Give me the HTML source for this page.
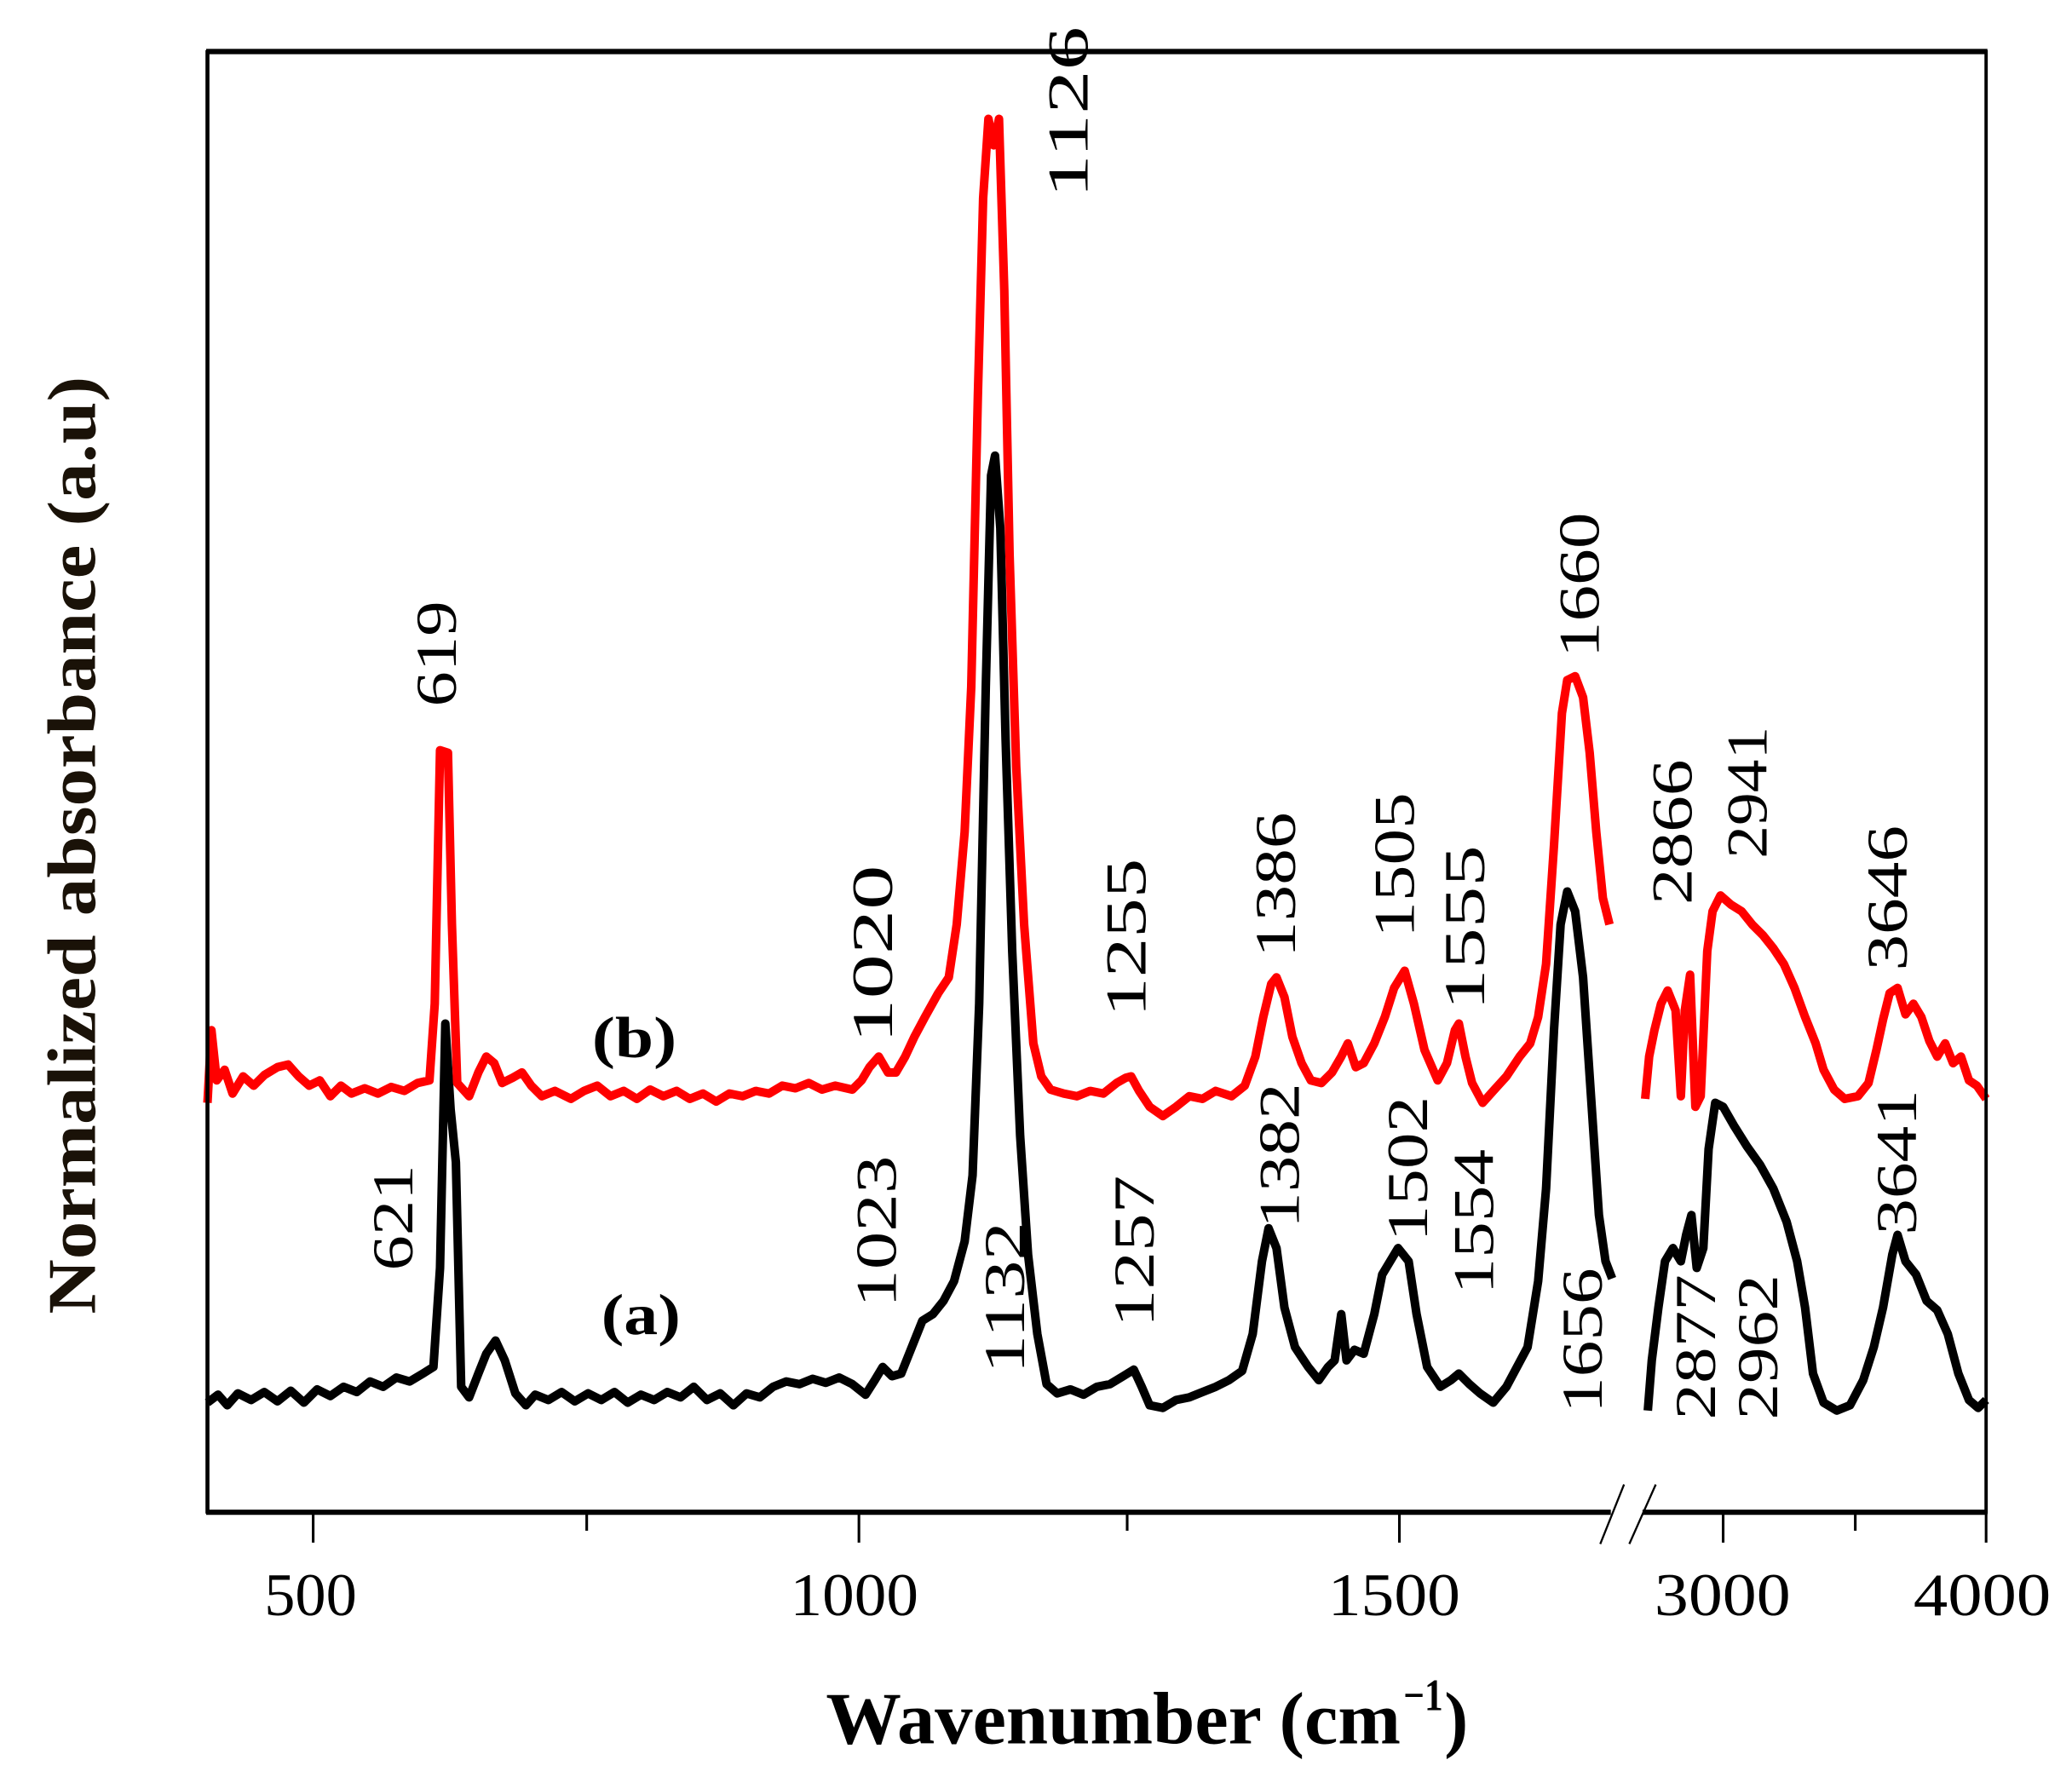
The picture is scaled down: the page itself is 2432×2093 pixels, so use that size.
<!DOCTYPE html>
<html><head><meta charset="utf-8"><style>html,body{margin:0;padding:0;background:#fff}svg{display:block}</style></head>
<body>
<svg width="2432" height="2093" viewBox="0 0 1568 1350" preserveAspectRatio="none" xmlns="http://www.w3.org/2000/svg" font-family="'Liberation Serif', serif">
<rect x="0" y="0" width="1568" height="1350" fill="#fff"/>
<g fill="none" stroke-width="6.5" stroke-linejoin="round">
<path stroke="#000" d="M157,1062 L165,1056 L172,1064 L180,1055 L190,1060 L200,1054 L210,1061 L220,1053 L230,1062 L240,1052 L250,1057 L260,1050 L270,1054 L280,1046 L290,1050 L300,1043 L310,1046 L320,1040 L328,1035 L333,960 L337,775 L341,840 L345,880 L349,1050 L355,1058 L362,1040 L368,1025 L375,1015 L382,1030 L390,1055 L398,1064 L405,1056 L415,1060 L425,1054 L435,1061 L445,1055 L455,1060 L465,1054 L475,1062 L485,1056 L495,1060 L505,1054 L515,1058 L525,1050 L535,1060 L545,1055 L555,1064 L565,1055 L575,1058 L585,1050 L595,1046 L605,1048 L615,1044 L625,1047 L635,1043 L645,1048 L655,1056 L662,1045 L668,1035 L675,1042 L682,1040 L690,1020 L698,1000 L706,995 L714,985 L722,970 L730,940 L736,890 L741,760 L746,520 L750,360 L753,345 L757,400 L761,560 L766,720 L772,860 L778,950 L785,1010 L792,1048 L800,1055 L810,1052 L820,1056 L830,1050 L840,1048 L850,1042 L858,1037 L864,1050 L870,1064 L880,1066 L890,1060 L900,1058 L910,1054 L920,1050 L930,1045 L940,1038 L948,1010 L955,955 L960,930 L966,945 L972,990 L980,1020 L990,1035 L998,1045 L1005,1035 L1010,1030 L1015,995 L1019,1030 L1025,1022 L1032,1025 L1040,995 L1046,965 L1052,955 L1058,945 L1066,955 L1072,995 L1080,1035 L1090,1050 L1098,1045 L1104,1040 L1112,1048 L1120,1055 L1130,1062 L1140,1050 L1148,1035 L1156,1020 L1164,970 L1170,900 L1176,780 L1181,700 L1186,675 L1192,690 L1198,740 L1204,830 L1210,920 L1215,955 L1220,968"/>
<path stroke="#000" d="M1247,1068 L1250,1030 L1255,990 L1260,955 L1266,945 L1272,955 L1276,935 L1280,920 L1284,960 L1289,945 L1293,870 L1298,835 L1304,838 L1312,852 L1322,868 L1332,882 L1342,900 L1352,925 L1360,955 L1366,990 L1372,1040 L1380,1062 L1390,1068 L1400,1064 L1410,1045 L1418,1020 L1425,990 L1432,950 L1436,935 L1442,955 L1450,965 L1458,985 L1466,992 L1474,1010 L1482,1040 L1490,1060 L1497,1066 L1503,1060"/>
<path stroke="#ff0000" d="M157,835 L160,780 L164,818 L170,810 L176,828 L184,815 L192,822 L200,814 L210,808 L218,806 L226,815 L234,822 L242,818 L250,830 L258,822 L266,828 L276,824 L286,828 L296,823 L306,826 L316,820 L325,818 L329,760 L333,568 L339,570 L342,700 L346,820 L355,830 L362,812 L368,800 L374,805 L380,820 L388,816 L395,812 L402,822 L410,830 L420,826 L432,832 L442,826 L452,822 L462,830 L472,826 L482,832 L492,825 L502,830 L512,826 L522,832 L532,828 L542,834 L552,828 L562,830 L572,826 L582,828 L592,822 L602,824 L612,820 L622,825 L632,822 L645,825 L652,818 L658,808 L665,800 L672,812 L678,812 L685,800 L692,785 L700,770 L710,752 L718,740 L724,700 L730,630 L735,520 L740,300 L744,150 L748,90 L752,110 L756,90 L760,220 L764,420 L769,580 L775,700 L782,790 L788,815 L795,825 L805,828 L815,830 L825,826 L835,828 L845,820 L852,816 L856,815 L862,826 L870,838 L880,845 L890,838 L900,830 L910,832 L920,826 L932,830 L942,822 L950,800 L956,770 L962,745 L966,740 L972,755 L978,785 L985,805 L992,818 L1000,820 L1008,812 L1015,800 L1020,790 L1026,808 L1032,805 L1040,790 L1048,770 L1055,748 L1063,735 L1070,760 L1078,795 L1088,818 L1095,805 L1101,780 L1104,775 L1109,800 L1114,820 L1122,835 L1130,826 L1140,815 L1150,800 L1158,790 L1164,770 L1170,730 L1176,640 L1182,540 L1186,515 L1192,512 L1198,528 L1203,570 L1208,630 L1213,680 L1218,700"/>
<path stroke="#ff0000" d="M1245,832 L1248,800 L1252,780 L1257,760 L1262,750 L1268,765 L1272,830 L1275,765 L1279,738 L1283,838 L1287,830 L1292,720 L1296,690 L1302,678 L1310,685 L1318,690 L1326,700 L1334,708 L1342,718 L1350,730 L1358,748 L1366,770 L1374,790 L1380,810 L1388,825 L1396,832 L1406,830 L1414,820 L1420,795 L1425,772 L1430,752 L1436,748 L1442,768 L1448,760 L1454,770 L1460,788 L1466,800 L1472,790 L1478,805 L1484,800 L1490,818 L1496,822 L1503,832"/>
</g>
<!-- frame -->
<line x1="156" y1="39" x2="1504" y2="39" stroke="#000" stroke-width="4"/>
<line x1="157" y1="38" x2="157" y2="1146" stroke="#000" stroke-width="3"/>
<line x1="1503" y1="38" x2="1503" y2="1146" stroke="#000" stroke-width="2.5"/>
<line x1="156" y1="1145" x2="1504" y2="1145" stroke="#000" stroke-width="4"/>
<rect x="1219" y="1138" width="24" height="12" fill="#fff"/>
<line x1="1211" y1="1169" x2="1229" y2="1124" stroke="#000" stroke-width="1.5"/>
<line x1="1233" y1="1169" x2="1253" y2="1124" stroke="#000" stroke-width="1.5"/>
<g stroke="#000" stroke-width="2">
<line x1="237" y1="1145" x2="237" y2="1168"/>
<line x1="444" y1="1145" x2="444" y2="1159"/>
<line x1="650" y1="1145" x2="650" y2="1168"/>
<line x1="853" y1="1145" x2="853" y2="1159"/>
<line x1="1059" y1="1145" x2="1059" y2="1168"/>
<line x1="1304" y1="1145" x2="1304" y2="1168"/>
<line x1="1404" y1="1145" x2="1404" y2="1159"/>
<line x1="1503" y1="1145" x2="1503" y2="1168"/>
</g>
<g font-size="46" fill="#000">
<text x="200" y="1223" textLength="70" lengthAdjust="spacingAndGlyphs">500</text>
<text x="598" y="1223" textLength="97" lengthAdjust="spacingAndGlyphs">1000</text>
<text x="1005" y="1223" textLength="100" lengthAdjust="spacingAndGlyphs">1500</text>
<text x="1252" y="1223" textLength="103" lengthAdjust="spacingAndGlyphs">3000</text>
<text x="1448" y="1223" textLength="104" lengthAdjust="spacingAndGlyphs">4000</text>
</g>
<text x="625" y="1320" font-size="56" font-weight="bold" textLength="435" lengthAdjust="spacingAndGlyphs">Wavenumber (cm</text>
<text x="1062" y="1295" font-size="34" font-weight="bold" textLength="30" lengthAdjust="spacingAndGlyphs">−1</text>
<text x="1093" y="1320" font-size="56" font-weight="bold" textLength="18" lengthAdjust="spacingAndGlyphs">)</text>
<text transform="translate(72,995) rotate(-90)" font-size="52" font-weight="bold" fill="#1a1208" textLength="710" lengthAdjust="spacingAndGlyphs">Normalized absorbance (a.u)</text>
<text x="448" y="800" font-size="44" font-weight="bold" textLength="64" lengthAdjust="spacingAndGlyphs">(b)</text>
<text x="455" y="1010" font-size="44" font-weight="bold" textLength="60" lengthAdjust="spacingAndGlyphs">(a)</text>
<g font-size="44" fill="#000">
<text transform="translate(823,150) rotate(-90)" textLength="130" lengthAdjust="spacingAndGlyphs">1126</text>
<text transform="translate(345,535) rotate(-90)" textLength="80" lengthAdjust="spacingAndGlyphs">619</text>
<text transform="translate(675,790) rotate(-90)" textLength="135" lengthAdjust="spacingAndGlyphs">1020</text>
<text transform="translate(867,770) rotate(-90)" textLength="120" lengthAdjust="spacingAndGlyphs">1255</text>
<text transform="translate(980,725) rotate(-90)" textLength="110" lengthAdjust="spacingAndGlyphs">1386</text>
<text transform="translate(1070,710) rotate(-90)" textLength="110" lengthAdjust="spacingAndGlyphs">1505</text>
<text transform="translate(1123,765) rotate(-90)" textLength="125" lengthAdjust="spacingAndGlyphs">1555</text>
<text transform="translate(1210,498) rotate(-90)" textLength="110" lengthAdjust="spacingAndGlyphs">1660</text>
<text transform="translate(1280,685) rotate(-90)" textLength="110" lengthAdjust="spacingAndGlyphs">2866</text>
<text transform="translate(1337,650) rotate(-90)" textLength="100" lengthAdjust="spacingAndGlyphs">2941</text>
<text transform="translate(1443,735) rotate(-90)" textLength="110" lengthAdjust="spacingAndGlyphs">3646</text>
<text transform="translate(312,962) rotate(-90)" textLength="80" lengthAdjust="spacingAndGlyphs">621</text>
<text transform="translate(678,990) rotate(-90)" textLength="115" lengthAdjust="spacingAndGlyphs">1023</text>
<text transform="translate(775,1040) rotate(-90)" textLength="115" lengthAdjust="spacingAndGlyphs">1132</text>
<text transform="translate(873,1005) rotate(-90)" textLength="115" lengthAdjust="spacingAndGlyphs">1257</text>
<text transform="translate(983,930) rotate(-90)" textLength="110" lengthAdjust="spacingAndGlyphs">1382</text>
<text transform="translate(1080,940) rotate(-90)" textLength="110" lengthAdjust="spacingAndGlyphs">1502</text>
<text transform="translate(1130,980) rotate(-90)" textLength="110" lengthAdjust="spacingAndGlyphs">1554</text>
<text transform="translate(1212,1070) rotate(-90)" textLength="110" lengthAdjust="spacingAndGlyphs">1656</text>
<text transform="translate(1298,1075) rotate(-90)" textLength="110" lengthAdjust="spacingAndGlyphs">2877</text>
<text transform="translate(1345,1075) rotate(-90)" textLength="110" lengthAdjust="spacingAndGlyphs">2962</text>
<text transform="translate(1450,935) rotate(-90)" textLength="110" lengthAdjust="spacingAndGlyphs">3641</text>
</g>
</svg>
</body></html>
